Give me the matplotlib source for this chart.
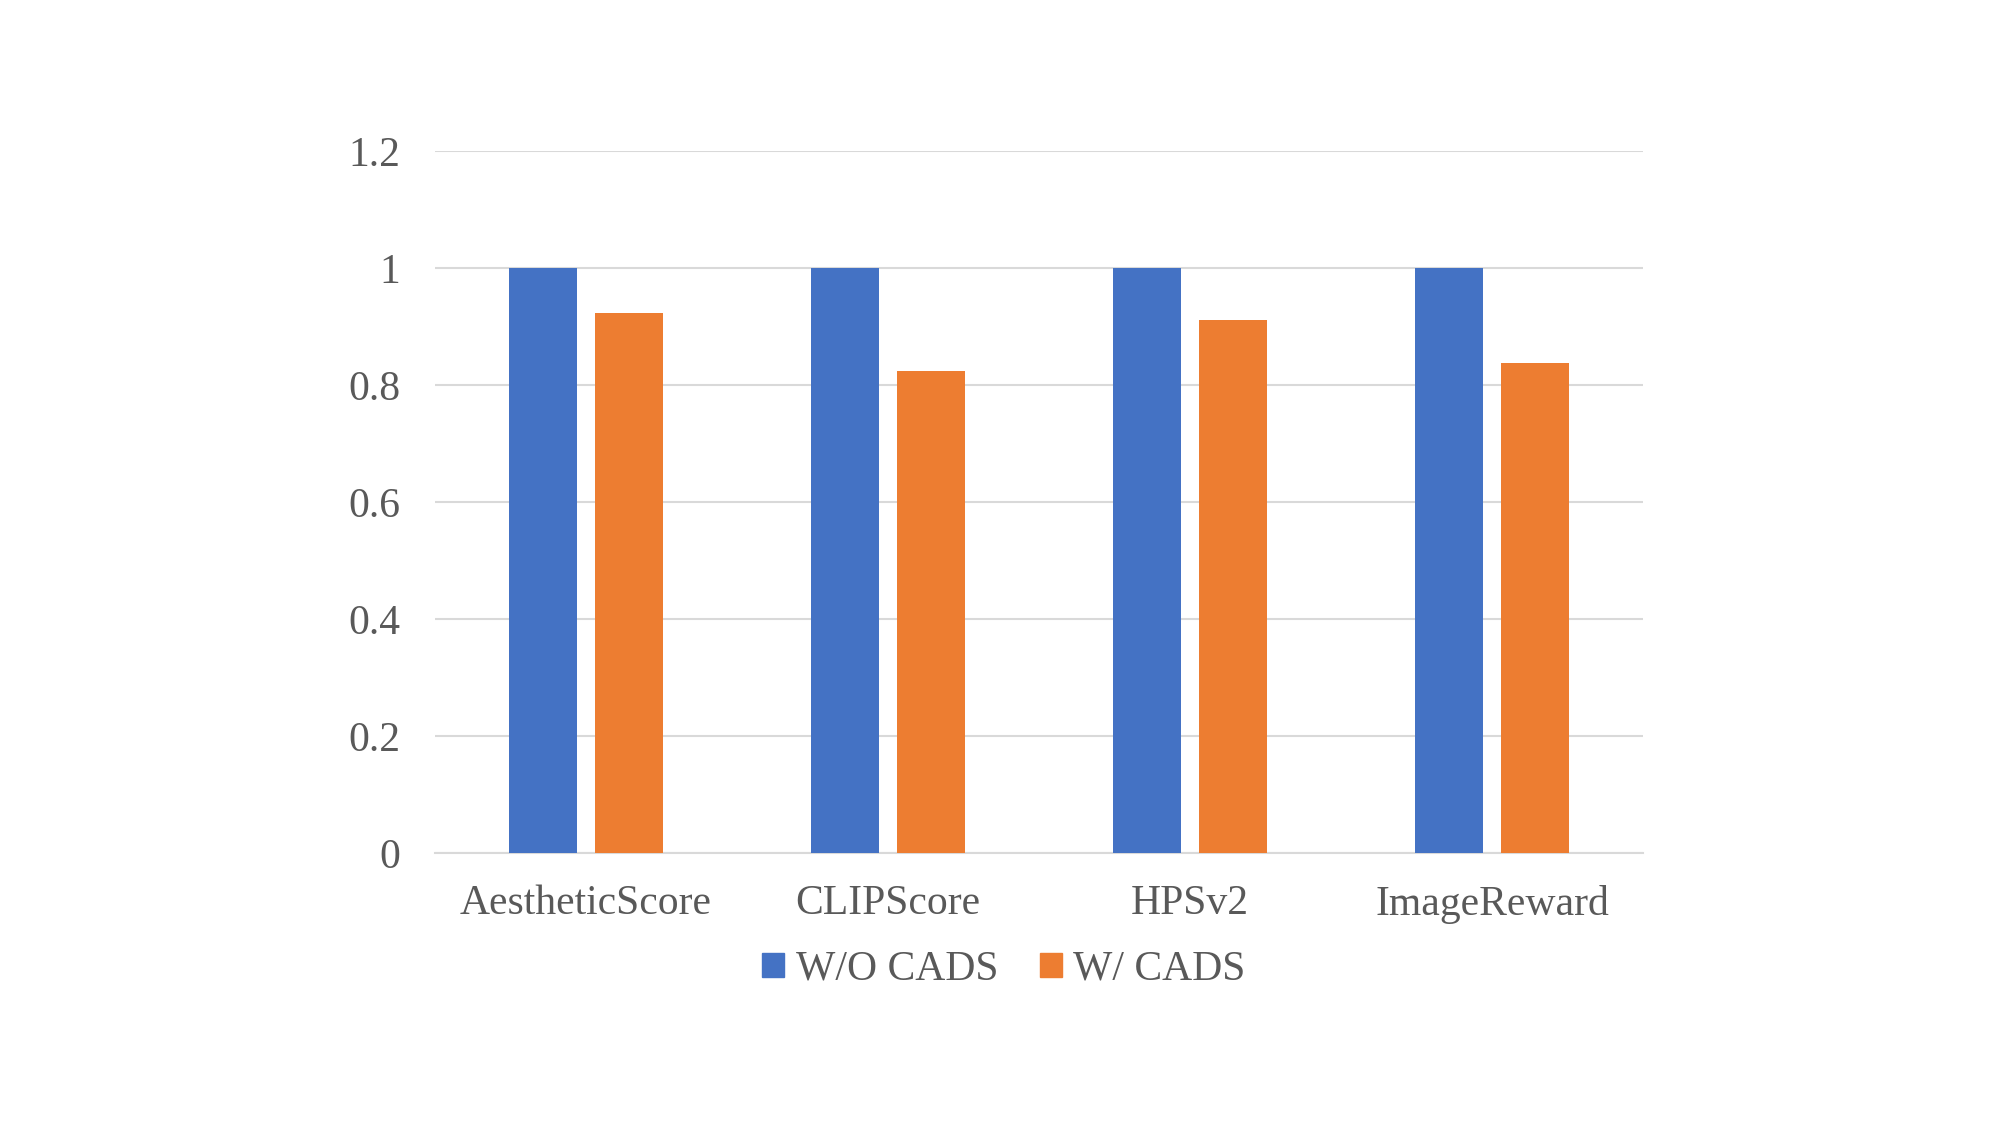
import matplotlib
matplotlib.use("Agg")
import matplotlib.pyplot as plt
import numpy as np
from matplotlib.patches import Patch

categories = ["AestheticScore", "CLIPScore", "HPSv2", "ImageReward"]
series_names = ["W/O CADS", "W/ CADS"]
wo_cads = [1.0, 1.0, 1.0, 1.0]
w_cads = [0.922, 0.824, 0.910, 0.838]
yticks = [0, 0.2, 0.4, 0.6, 0.8, 1.0, 1.2]
ytick_labels = ["0", "0.2", "0.4", "0.6", "0.8", "1", "1.2"]

colors = ["#4472C4", "#ED7D31"]
text_color = "#595959"
plt.rcParams['font.family'] = ['Liberation Serif', 'DejaVu Serif']

fig = plt.figure(figsize=(20, 11.25), dpi=100)
ax = fig.add_axes([0.2175, 0.2418, 0.604, 0.6242])

x = np.arange(len(categories))
w = 0.224
off = 0.143
ax.bar(x - off, wo_cads, width=w, color=colors[0], zorder=3)
ax.bar(x + off, w_cads, width=w, color=colors[1], zorder=3)

ax.set_xlim(-0.5, len(categories) - 0.5)
ax.set_ylim(0, 1.2)
ax.set_yticks(yticks)
ax.set_yticklabels(ytick_labels)
ax.set_xticks(x)
ax.set_xticklabels(categories)
ax.grid(axis='y', color='#D9D9D9', linewidth=1.5, zorder=0)
for s in ['top', 'right', 'left']:
    ax.spines[s].set_visible(False)
ax.spines['bottom'].set_color('#D9D9D9')
ax.spines['bottom'].set_linewidth(1.5)
ax.tick_params(axis='both', length=0, labelsize=30, colors=text_color)
ax.tick_params(axis='x', pad=23)
ax.tick_params(axis='y', pad=25)

handles = [Patch(color=colors[i], label=series_names[i]) for i in range(2)]
fig.legend(handles=handles, loc='center', bbox_to_anchor=(0.502, 0.1385), ncol=2,
           frameon=False, fontsize=30, labelcolor=text_color,
           handlelength=0.52, handleheight=0.52, handletextpad=0.28, columnspacing=1.0)

fig.savefig("out.png", dpi=100)
